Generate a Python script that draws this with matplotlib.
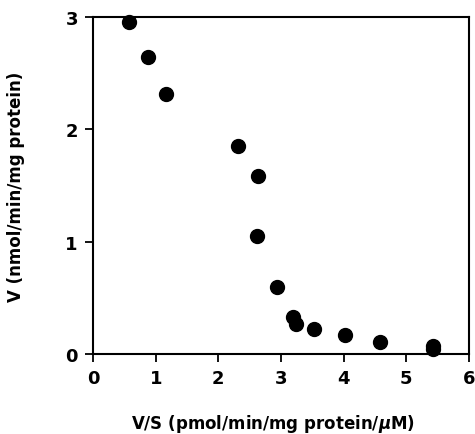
import matplotlib
matplotlib.use("Agg")
import matplotlib.pyplot as plt

# V/S vs V (Eadie-Hofstee style)
vs = [0.57, 0.88, 1.16, 2.31, 2.63, 2.62, 2.93, 3.19, 3.24, 3.52, 4.02, 4.58, 5.42, 5.42]
v = [2.95, 2.64, 2.31, 1.85, 1.585, 1.05, 0.60, 0.33, 0.27, 0.22, 0.17, 0.107, 0.07, 0.04]

plt.rcParams['font.family'] = ['DejaVu Sans']
plt.rcParams['font.weight'] = 'bold'

fig = plt.figure(figsize=(4.75, 4.35), dpi=100)
ax = fig.add_axes([0.196, 0.184, 0.791, 0.775])

ax.plot(vs, v, 'o', color='black', markersize=10, clip_on=False)

ax.set_xlim(0, 6)
ax.set_ylim(0, 3)
ax.set_xticks([0, 1, 2, 3, 4, 5, 6])
ax.set_yticks([0, 1, 2, 3])
ax.tick_params(direction='out', length=6, width=1.3, labelsize=13, pad=5)
for s in ax.spines.values():
    s.set_linewidth(1.5)

ax.set_xlabel("V/S (pmol/min/mg protein/$\\mu$M)", fontsize=12, fontweight='bold')
ax.set_ylabel("V (nmol/min/mg protein)", fontsize=12, fontweight='bold')
ax.xaxis.set_label_coords(0.48, -0.172)
ax.yaxis.set_label_coords(-0.18, 0.5)

fig.savefig("out.png", dpi=100)
